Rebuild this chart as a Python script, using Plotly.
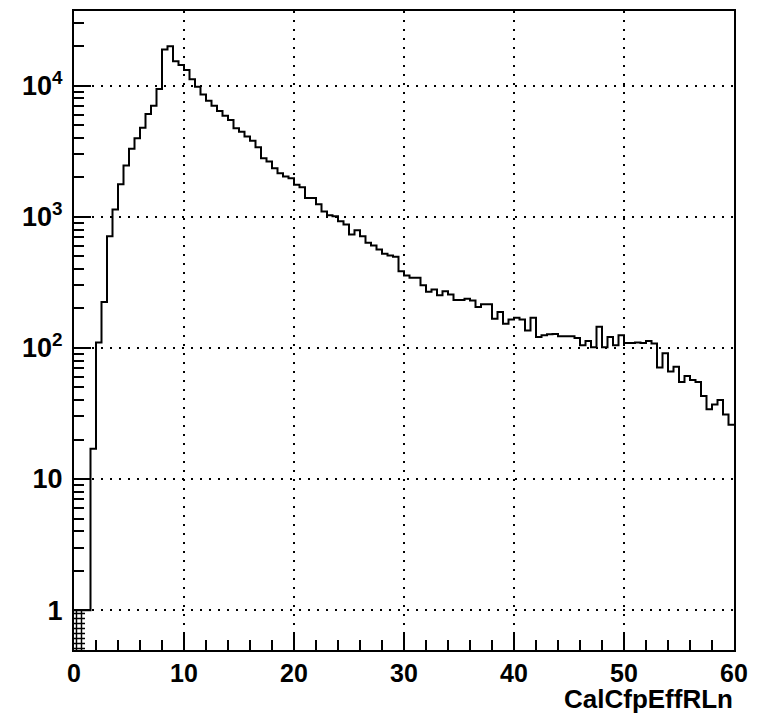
import plotly.graph_objects as go

# Histogram: CalCfpEffRLn, 120 bins of width 0.5 from 0 to 60
x_min = 0.0
bin_width = 0.5
counts = [
    1, 1, 1, 17, 110, 224, 711, 1135, 1775, 2464,
    3300, 3980, 4790, 6090, 7050, 9440, 18900, 20000, 15400, 14400,
    13200, 11200, 9830, 8590, 7690, 7050, 6420, 5910, 5480, 4730,
    4460, 4100, 3800, 3400, 2800, 2640, 2350, 2150, 2030, 1970,
    1760, 1680, 1390, 1390, 1250, 1100, 1030, 1010, 925, 873,
    733, 789, 711, 633, 604, 564, 522, 507, 495, 385,
    357, 343, 343, 301, 268, 279, 252, 271, 256, 232,
    232, 237, 230, 205, 215, 215, 167, 188, 153, 165,
    170, 165, 136, 170, 121, 125, 127, 128, 123, 123,
    123, 119, 105, 113, 101, 145, 101, 121, 105, 125,
    109, 109, 110, 109, 113, 108, 71, 91, 66, 72,
    55, 61, 57, 55, 43, 34, 37, 40, 31, 26,
]
x_ticks = [0, 10, 20, 30, 40, 50, 60]
y_ticks = [1, 10, 100, 1000, 10000]
y_ticktext = ["1", "10", "10<sup>2</sup>", "10<sup>3</sup>", "10<sup>4</sup>"]
hatch_bins = [0, 1]  # low bins drawn with ROOT's cross hatch

edges = [x_min + bin_width * i for i in range(len(counts) + 1)]
step_y = counts + [counts[-1]]

y_minor = [m * 10 ** d for d in range(0, 5) for m in range(2, 10) if m * 10 ** d < 37000]

fig = go.Figure()

fig.add_trace(go.Bar(
    x=[x_min + bin_width * (b + 0.5) for b in hatch_bins],
    y=[counts[b] for b in hatch_bins],
    width=bin_width,
    marker=dict(color="rgba(0,0,0,0)", line=dict(width=0),
                pattern=dict(shape="+", fgcolor="black", fgopacity=1,
                             bgcolor="rgba(0,0,0,0)", size=5, solidity=0.5)),
    showlegend=False, hoverinfo="skip",
))

fig.add_trace(go.Scatter(
    x=edges, y=step_y, mode="lines", line_shape="hv",
    line=dict(color="black", width=2), showlegend=False,
))

font = dict(family="Liberation Sans, Arial, sans-serif", size=27, color="black", weight="bold")
xfont = dict(family="Liberation Sans, Arial, sans-serif", size=25, color="black", weight="bold")
tfont = dict(family="Liberation Sans, Arial, sans-serif", size=26, color="black", weight="bold")

fig.update_layout(
    width=766, height=717,
    margin=dict(l=74, r=32, t=9, b=67),
    paper_bgcolor="white", plot_bgcolor="white",
    bargap=0,
    xaxis=dict(
        range=[0, 60], showline=True, linewidth=2, linecolor="black", mirror=True,
        ticks="inside", ticklen=18, tickwidth=1.5, tickcolor="black",
        tickvals=x_ticks, tickfont=xfont, zeroline=False,
        showgrid=True, gridcolor="black", gridwidth=2, griddash="2px,7px",
        ticklabelstandoff=0,
        minor=dict(ticks="inside", ticklen=10, tickwidth=1.5, tickcolor="black",
                   dtick=2, tick0=0, showgrid=False),
    ),
    yaxis=dict(
        type="log", range=[-0.304, 4.570], showline=True, linewidth=2, linecolor="black",
        mirror=True, ticks="inside", ticklen=17, tickwidth=1.5, tickcolor="black",
        tickvals=y_ticks, ticktext=y_ticktext, tickfont=font, zeroline=False,
        showgrid=True, gridcolor="black", gridwidth=2, griddash="2px,7px",
        ticklabelstandoff=4,
        minor=dict(ticks="inside", ticklen=10, tickwidth=1.5, tickcolor="black",
                   tickmode="array", tickvals=y_minor, showgrid=False),
    ),
    annotations=[dict(
        text="CalCfpEffRLn", x=1, xref="paper", xanchor="right",
        y=-0.1025, yref="paper", yanchor="bottom", borderpad=0,
        showarrow=False, font=tfont,
    )],
)

fig.write_html("out.html")
